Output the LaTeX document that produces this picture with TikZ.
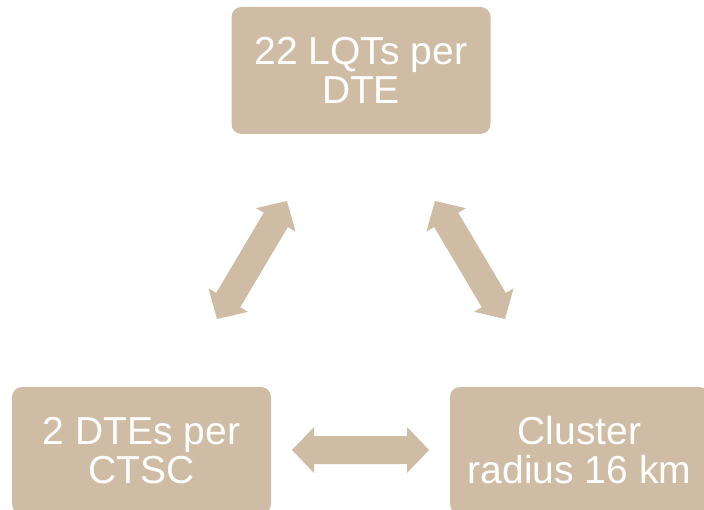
\documentclass[tikz,border=0pt]{standalone}
\usepackage{fontspec}
\setmainfont{Liberation Sans}
\usetikzlibrary{calc}
\definecolor{tan}{RGB}{207,188,165}
\tikzset{
  box/.style={fill=tan, draw=none, rounded corners=10pt, text=white, align=center,
    font=\fontsize{39}{39}\selectfont, inner sep=0pt,
    minimum width=259pt, minimum height=127pt},
  arrowfill/.style={fill=tan, draw=none}
}
\newcommand\blockarr[2]{%
  \coordinate (#1h) at ($(#1)!22pt!(#2)$);
  \coordinate (#2h) at ($(#2)!22pt!(#1)$);
  \fill[arrowfill] (#1)
    -- ($(#1h)!23pt!90:(#2)$) -- ($(#1h)!14pt!90:(#2)$)
    -- ($(#2h)!14pt!-90:(#1)$) -- ($(#2h)!23pt!-90:(#1)$)
    -- (#2)
    -- ($(#2h)!23pt!90:(#1)$) -- ($(#2h)!14pt!90:(#1)$)
    -- ($(#1h)!14pt!-90:(#2)$) -- ($(#1h)!23pt!-90:(#2)$)
    -- cycle;
}
\begin{document}
\begin{tikzpicture}[x=1pt,y=-1pt]
\useasboundingbox (0,0) rectangle (704,510);
\node[box] (top) at (361,70.5) {22 LQTs per\\DTE};
\node[box] (bl) at (141.5,450.5) {2 DTEs per\\CTSC};
\node[box] (br) at (579.5,450.5) {Cluster\\radius 16 km};
\coordinate (a1) at (217,319);
\coordinate (a2) at (287,201);
\coordinate (b1) at (505,319);
\coordinate (b2) at (435,201);
\coordinate (c1) at (292,450);
\coordinate (c2) at (429,450);
\blockarr{a1}{a2}
\blockarr{b1}{b2}
\blockarr{c1}{c2}
\end{tikzpicture}
\end{document}
